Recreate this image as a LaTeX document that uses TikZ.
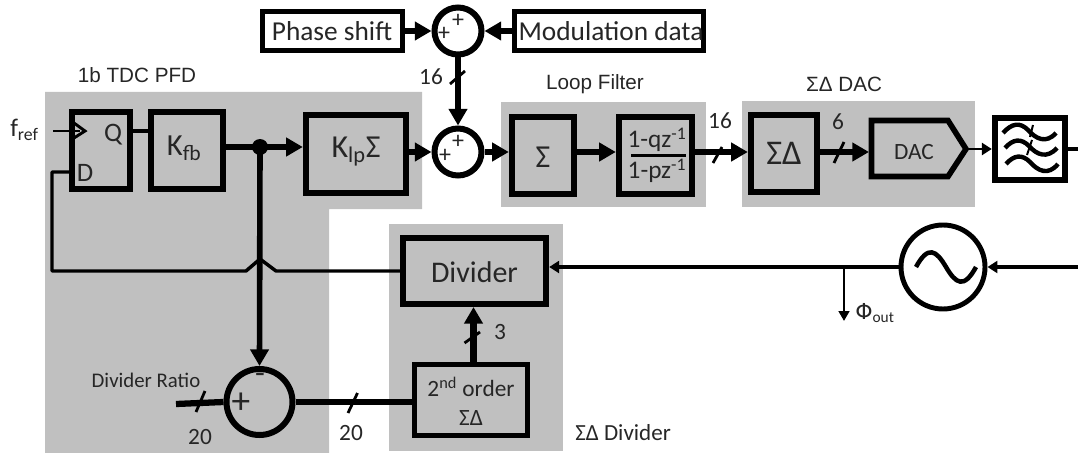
\documentclass[tikz,border=0pt]{standalone}
\usepackage{fontspec}
\setmainfont{Carlito}
\newfontfamily\arial{Liberation Sans}
\newfontfamily\dejavu{DejaVu Sans}
\usetikzlibrary{arrows.meta}
\definecolor{gr}{RGB}{192,192,192}
\newcommand{\fs}[1]{\fontsize{#1}{#1}\selectfont}
\tikzset{
  x=0.75pt,y=-0.75pt,
  band/.style={fill=gr,draw=none},
  blk/.style={draw=black,rectangle,line width=4.4pt,inner sep=0pt,anchor=center},
  ring/.style={draw=black,fill=white,circle,line width=4.5pt,inner sep=0pt,anchor=center},
  txt/.style={inner sep=0pt,anchor=center,text=black!85},
  thick wire/.style={line width=4.7pt},
  mid wire/.style={line width=2.6pt},
  thin wire/.style={line width=2.2pt},
  bigtip/.style={-{Triangle[length=12.5pt,width=13.5pt]}},
  midtip/.style={-{Triangle[length=7.5pt,width=9pt]}},
  smalltip/.style={-{Triangle[length=7.5pt,width=8pt]}},
  slash/.style={line width=2.1pt},
}
\begin{document}
\begin{tikzpicture}
\useasboundingbox (0,0) rectangle (1078,453);
% grey bands
\fill[band] (45,92)--(422,92)--(422,209)--(329,209)--(329,453)--(45,453)--cycle;
\fill[band] (389,224) rectangle (563,451);
\fill[band] (501,102) rectangle (706,207);
\fill[band] (742,101) rectangle (975,207);
% blocks: size is centre-line size
\node[blk,minimum width=58.5*0.75pt,minimum height=77.5*0.75pt] (ff) at (101,150.5) {};
\node[blk,minimum width=72.5*0.75pt,minimum height=77.5*0.75pt] (kfb) at (187,150.5) {};
\node[txt,font=\fs{23}] at (184,148) {K\textsubscript{fb}};
\node[blk,minimum width=100.5*0.75pt,minimum height=78.5*0.75pt] (klp) at (356,154) {};
\node[txt,font=\fs{24}] at (356,152) {K\textsubscript{lp}Σ};
\node[blk,fill=white,line width=3.7pt,minimum width=140*0.75pt,minimum height=39*0.75pt] (ps) at (332.5,31) {};
\node[txt,font=\fs{20.5}] at (332,31) {Phase shift};
\node[blk,fill=white,line width=3.7pt,minimum width=189*0.75pt,minimum height=39*0.75pt] (md) at (609,31) {};
\node[txt,font=\fs{20.5}] at (611,31) {Modulation data};
\node[ring,minimum size=47*0.75pt] (s1) at (458,31) {};
\node[ring,minimum size=47*0.75pt] (s2) at (458,152) {};
\node[blk,minimum width=62.5*0.75pt,minimum height=77.5*0.75pt] (int) at (543,155.5) {};
\node[txt,font=\fs{24}] at (543,157) {Σ};
\node[blk,minimum width=73.5*0.75pt,minimum height=77.5*0.75pt] (lf) at (655.5,155.5) {};
\node[txt,font=\fs{19}] (n) at (657,140) {1-qz\textsuperscript{-1}};
\node[txt,font=\fs{19}] (d) at (657,171) {1-pz\textsuperscript{-1}};
\draw[line width=1.8pt] (631,155.5) -- (686,155.5);
\node[blk,minimum width=66.5*0.75pt,minimum height=77.5*0.75pt] (sd) at (784,153.5) {};
\node[txt,font=\fs{26}] at (784,153) {ΣΔ};
\draw[line width=4.2pt,miter limit=10] (871.5,120.5) -- (948,120.5) -- (966,149) coordinate (dt) -- (948,176.5) -- (871.5,176.5) -- cycle;
\node[txt,font=\fs{17.5}] at (914,152) {DAC};
\node[blk,fill=white,minimum width=70.5*0.75pt,minimum height=62.5*0.75pt] (flt) at (1030,149) {};
\draw[line width=3.3pt]
  (1003,133) .. controls (1012,123) and (1020,122) .. (1028,130) .. controls (1036,139) and (1046,144) .. (1056,133);
\draw[line width=3.3pt]
  (1005,148) .. controls (1013,139) and (1021,138) .. (1029,146) .. controls (1037,155) and (1047,159) .. (1057,148);
\draw[line width=3.3pt]
  (1006,164) .. controls (1014,155) and (1022,154) .. (1030,162) .. controls (1038,171) and (1048,176) .. (1058,164);
\draw[line width=1.5pt] (1033,125) -- (1030,137);
\draw[line width=1.5pt] (1032,140) -- (1027,155);
\node[ring,line width=3.7pt,minimum size=84*0.75pt] (vco) at (943,267) {};
\draw[line width=3.4pt] (916,267) .. controls (928,245) and (936,250) .. (946,267) .. controls (956,284) and (964,289) .. (976,267);
\node[blk,minimum width=143.5*0.75pt,minimum height=66.5*0.75pt] (dv) at (474.5,271) {};
\node[txt,font=\fs{22.5}] at (474.5,272) {Divider};
\node[blk,line width=3.8pt,minimum width=113*0.75pt,minimum height=71*0.75pt] (so) at (471,400) {};
\node[txt,font=\fs{17.5}] at (471,387) {2\textsuperscript{nd} order};
\node[txt,font=\fs{17.5}] at (471,418) {ΣΔ};
\node[ring,fill=none,minimum size=66*0.75pt] (sb) at (259.5,402) {};
% sum signs
\node[txt,font=\fs{18}] at (458,21) {+};
\node[txt,font=\fs{18}] at (444,34) {+};
\node[txt,font=\fs{18}] at (458,142) {+};
\node[txt,font=\fs{18}] at (445,156) {+};
\node[txt,font=\fs{28}] at (241,403) {+};
\node[txt,font=\fs{24}] at (260,378) {-};
% flip flop inner
\node[txt,font=\fs{20}] at (113,135) {Q};
\node[txt,font=\fs{20}] at (85,173) {D};
\draw[line width=2.2pt] (74,123) -- (85,131) -- (74,138);
\coordinate (fin) at (53,131);
\draw[thin wire] (fin) -- (80,131);
\node[txt,font=\fs{19},anchor=west] at (10,130) {f\textsubscript{ref}};
% feedback with hop, under the vertical wire
\coordinate (fb1) at (52,271);
\draw[mid wire,line join=round] (dv.west) -- (276,271) -- (260,259) -- (246,271) -- (fb1) -- (52,172) -- (ff.west |- 0,172);
% wires
\draw[mid wire] (ff.east |- 0,131) -- (kfb.west |- 0,131);
\coordinate (junc) at (260,147);
\draw[thick wire,bigtip] (kfb.east |- junc) -- (klp.west |- junc);
\draw[line width=4.2pt,bigtip] (junc) -- (sb.north);
\fill (junc) circle[radius=8];
\draw[thick wire,bigtip] (klp.east |- s2) -- (s2.west);
\draw[thick wire,bigtip] (ps.east) -- (s1.west);
\draw[thick wire,bigtip] (md.west) -- (s1.east);
\draw[thick wire,bigtip] (s1.south) -- (s2.north);
\draw[thick wire,bigtip] (s2.east) -- (int.west |- s2);
\draw[thick wire,bigtip] (int.east |- s2) -- (lf.west |- s2);
\draw[thick wire,bigtip] (lf.east |- s2) -- (sd.west |- s2);
\draw[thick wire,bigtip] (sd.east |- s2) -- (869,152);
\draw[thin wire,midtip] (dt) -- (flt.west |- dt);
\coordinate (fout) at (1078,149);
\draw[mid wire] (flt.east |- fout) -- (fout);
\coordinate (vin) at (1078,267);
\draw[line width=2.8pt,midtip] (vin) -- (vco.east);
\draw[line width=2.8pt,midtip] (vco.west) -- (dv.east |- vco);
\coordinate (tap) at (844,267);
\coordinate (phi) at (844,321);
\draw[thin wire,smalltip] (tap) -- (phi);
\node[txt,font=\fs{16.5},anchor=west] at (855,313) {{\dejavu Φ}\textsubscript{out}};
% bottom
\draw[thick wire,bigtip] (473.5,362) -- (473.5,307);
\draw[thick wire] (sb.east) -- (so.west |- sb);
\coordinate (dr) at (176,404);
\draw[thick wire] (dr) -- (sb.west);
% slashes
\draw[slash] (450,84) -- (465,71);
\draw[slash] (713,163) -- (722,147);
\draw[slash] (834,163) -- (844,142);
\draw[slash] (464.5,343) -- (480,332);
\draw[slash] (348,413) -- (357.5,393);
\draw[slash] (196,412) -- (205,391);
% labels
\node[txt,font=\fs{17.5}] at (431,77) {16};
\node[txt,font=\fs{17.5}] at (720,121) {16};
\node[txt,font=\fs{17.5}] at (838,122) {6};
\node[txt,font=\fs{17.5}] at (500,332) {3};
\node[txt,font=\fs{17.5}] at (351,433) {20};
\node[txt,font=\fs{17.5}] at (200,437) {20};
\node[txt,font=\fs{15.6}] at (146,380) {Divider Ratio};
\node[txt,font=\fs{17.3},anchor=west] at (575,433) {ΣΔ Divider};
\node[txt,font=\arial\fs{15.5}] at (137,75) {1b TDC PFD};
\node[txt,font=\arial\fs{15.5}] at (595,84) {Loop Filter};
\node[txt,font=\arial\fs{15.5}] at (844,84) {ΣΔ DAC};
\end{tikzpicture}
\end{document}
